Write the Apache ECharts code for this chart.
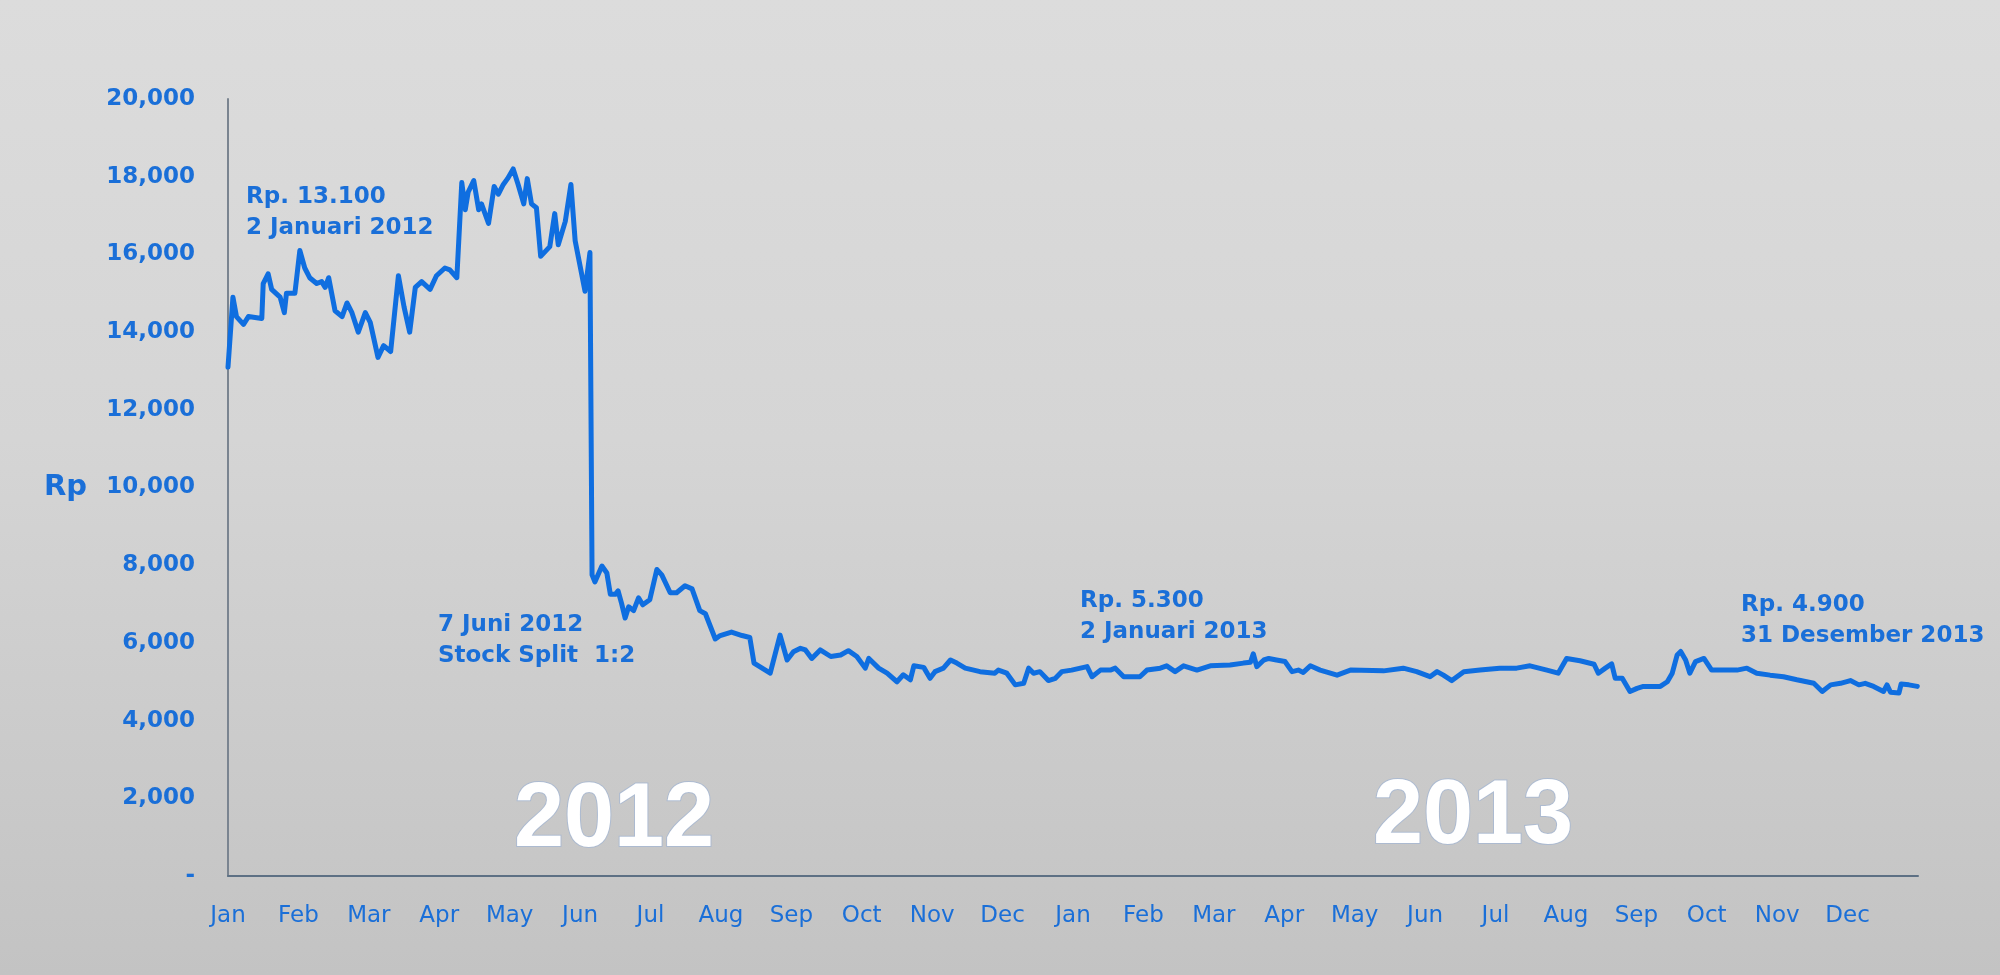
<!DOCTYPE html>
<html>
<head>
<meta charset="utf-8">
<script src="https://cdn.jsdelivr.net/npm/echarts@6/dist/echarts.min.js"></script>
<style>
  html, body { margin: 0; padding: 0; width: 2000px; height: 975px; overflow: hidden; }
  body { background: linear-gradient(to bottom, #dcdcdc 0%, #d5d5d5 45%, #c3c3c3 100%); }
  #chart { width: 2000px; height: 975px; }
</style>
</head>
<body>
<div id="chart"></div>
<script>
// ---- data (x = months since 1 Jan 2012, y = price in Rp) ----
const monthLabels = ['Jan','Feb','Mar','Apr','May','Jun','Jul','Aug','Sep','Oct','Nov','Dec',
                     'Jan','Feb','Mar','Apr','May','Jun','Jul','Aug','Sep','Oct','Nov','Dec'];
const yearLabels = ['2012', '2013'];
const monthPos = [
  0.00,0.07,0.12,0.22,0.29,0.48,0.50,0.57,0.62,0.74,0.80,0.83,0.95,1.02,1.09,1.16,1.26,1.33,1.38,1.43,
  1.52,1.62,1.69,1.76,1.85,1.95,2.02,2.13,2.21,2.31,2.42,2.50,2.58,2.66,2.75,2.87,2.96,3.08,3.15,3.25,
  3.32,3.37,3.41,3.49,3.56,3.60,3.70,3.78,3.84,3.91,3.97,4.05,4.12,4.20,4.25,4.31,4.38,4.44,4.57,4.64,
  4.69,4.79,4.87,4.93,5.07,5.14,5.17,5.21,5.31,5.38,5.43,5.50,5.54,5.59,5.64,5.69,5.76,5.83,5.89,5.99,
  6.09,6.16,6.28,6.37,6.49,6.59,6.70,6.78,6.92,6.99,7.15,7.30,7.41,7.47,7.70,7.84,7.94,8.03,8.13,8.20,
  8.29,8.41,8.56,8.70,8.81,8.93,9.05,9.10,9.24,9.36,9.50,9.59,9.69,9.74,9.88,9.97,10.04,10.16,10.26,10.35,
  10.47,10.68,10.89,10.94,11.06,11.18,11.30,11.37,11.44,11.53,11.65,11.75,11.84,11.98,12.20,12.27,12.39,12.53,12.60,12.72,
  12.95,13.05,13.24,13.33,13.45,13.57,13.76,13.95,14.23,14.42,14.52,14.56,14.61,14.71,14.78,14.89,15.01,15.11,15.20,15.27,
  15.37,15.51,15.75,15.94,16.41,16.69,16.88,17.07,17.17,17.26,17.38,17.55,17.78,18.06,18.30,18.49,18.73,18.89,19.01,19.20,
  19.40,19.46,19.56,19.65,19.70,19.80,19.91,20.01,20.10,20.34,20.44,20.51,20.58,20.63,20.70,20.76,20.84,20.96,21.07,21.29,
  21.43,21.57,21.71,21.90,22.09,22.28,22.52,22.64,22.76,22.90,23.04,23.16,23.25,23.37,23.51,23.56,23.61,23.73,23.76,23.87,
  23.99
];
const price = [
  13100,14900,14400,14200,14400,14350,15250,15500,15100,14900,14500,15000,15000,16100,15650,15400,15250,15300,15150,15400,
  14550,14400,14750,14500,14000,14500,14250,13350,13650,13500,15450,14650,14000,15150,15300,15100,15450,15650,15600,15400,
  17850,17150,17600,17900,17150,17300,16800,17750,17550,17800,17950,18200,17800,17300,17950,17300,17200,15950,16200,17050,
  16250,16850,17800,16350,15050,16050,7750,7570,7980,7800,7250,7250,7340,7010,6640,6930,6830,7160,6980,7110,
  7890,7750,7290,7290,7470,7390,6830,6750,6100,6190,6280,6190,6140,5480,5220,6200,5560,5770,5860,5820,
  5600,5820,5650,5690,5800,5650,5350,5600,5350,5220,5000,5180,5050,5410,5370,5090,5260,5350,5560,5480,
  5350,5260,5220,5300,5220,4920,4960,5350,5220,5260,5030,5090,5260,5300,5390,5130,5300,5300,5350,5130,
  5130,5300,5350,5410,5260,5410,5300,5410,5430,5480,5500,5720,5390,5560,5600,5560,5520,5260,5300,5240,
  5410,5300,5170,5300,5280,5350,5260,5130,5260,5170,5030,5260,5300,5350,5350,5410,5300,5220,5600,5540,
  5450,5220,5350,5460,5090,5090,4750,4830,4880,4880,5000,5220,5690,5780,5560,5220,5520,5600,5300,5300,
  5300,5350,5220,5170,5130,5050,4960,4750,4920,4960,5030,4920,4960,4880,4750,4920,4730,4710,4940,4920,
  4880
];
const annotationTexts = [
  'Rp. 13.100\n2 Januari 2012',
  '7 Juni 2012\nStock Split  1:2',
  'Rp. 5.300\n2 Januari 2013',
  'Rp. 4.900\n31 Desember 2013'
];

// ---- chart ----
const seriesData = monthPos.map((m, i) => [m, price[i]]);
const blue = '#1a6fd8';
const annFont = 'bold 23px "DejaVu Sans", Verdana, sans-serif';
const annPos = [[246, 182], [438, 610], [1080, 586], [1741, 590]];
const yearPos = [[614, 821], [1473, 818]];

const chart = echarts.init(document.getElementById('chart'), null, { renderer: 'canvas' });
chart.setOption({
  backgroundColor: 'transparent',
  animation: false,
  grid: { left: 228, right: 82, top: 99, bottom: 99, containLabel: false },
  xAxis: {
    type: 'value', min: 0, max: 24, interval: 1,
    axisLine: { show: true, lineStyle: { color: '#5d7084', width: 2 } },
    axisTick: { show: false },
    splitLine: { show: false },
    axisLabel: {
      showMaxLabel: false, margin: 29,
      color: blue, fontSize: 23, fontFamily: '"DejaVu Sans", Verdana, sans-serif',
      formatter: v => (v < monthLabels.length ? monthLabels[v] : '')
    }
  },
  yAxis: {
    type: 'value', min: 0, max: 20000, interval: 2000,
    name: 'Rp', nameLocation: 'middle', nameRotate: 0, nameGap: 141,
    nameTextStyle: { color: blue, fontSize: 29, fontWeight: 'bold', fontFamily: '"DejaVu Sans", Verdana, sans-serif' },
    axisLine: { show: true, lineStyle: { color: '#7a8490', width: 2 } },
    axisTick: { show: false },
    splitLine: { show: false },
    axisLabel: {
      margin: 33, color: blue, fontSize: 23, fontWeight: 'bold',
      fontFamily: '"DejaVu Sans", Verdana, sans-serif',
      formatter: v => (v === 0 ? '-' : v.toLocaleString('en-US'))
    }
  },
  series: [{
    type: 'line', data: seriesData, showSymbol: false, smooth: false,
    lineStyle: { color: '#0f6ee0', width: 5, join: 'round', cap: 'round' },
    z: 3
  }],
  graphic: [
    ...annotationTexts.map((t, i) => ({
      type: 'text', x: annPos[i][0], y: annPos[i][1], z: 10,
      style: { text: t, font: annFont, fill: blue, lineHeight: 31, align: 'left', verticalAlign: 'top' }
    })),
    ...yearLabels.map((t, i) => ({
      type: 'text', x: yearPos[i][0], y: yearPos[i][1], z: 10,
      style: {
        text: t, font: 'bold 90px "Liberation Sans", Arial, sans-serif', fill: '#ffffff',
        align: 'center', verticalAlign: 'middle',
        stroke: 'rgba(150,175,215,0.55)', lineWidth: 2,
        shadowBlur: 8, shadowColor: 'rgba(120,150,210,0.6)'
      }
    }))
  ]
});
</script>
</body>
</html>
